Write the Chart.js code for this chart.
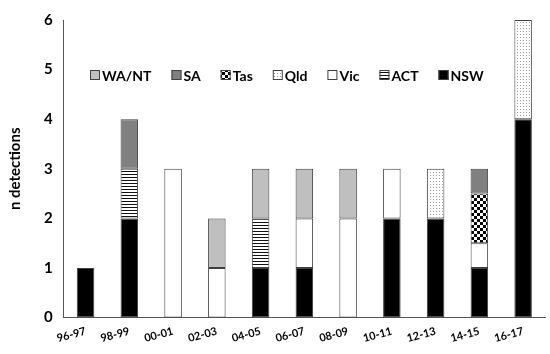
<!DOCTYPE html>
<html>
<head>
<meta charset="utf-8">
<script src="https://cdn.jsdelivr.net/npm/chart.js@4/dist/chart.umd.min.js"></script>
<style>
  html, body { margin: 0; padding: 0; background: #fff; }
  #wrap { width: 550px; height: 354px; }
</style>
</head>
<body>
<div id="wrap"><canvas id="detchart"></canvas></div>
<script>
var seasons = ["96-97","98-99","00-01","02-03","04-05","06-07","08-09","10-11","12-13","14-15","16-17"];
// stacked from the bottom: NSW, ACT, Vic, Qld, Tas, SA, WA/NT
var nsw  = [1, 2, null, null, 1, 1, null, 2, 2, 1, 4];
var act  = [null, 1, null, null, 1, null, null, null, null, null, null];
var vic  = [null, null, 3, 1, null, 1, 2, 1, null, 0.5, null];
var qld  = [null, null, null, null, null, null, null, null, 1, null, 2];
var tas  = [null, null, null, null, null, null, null, null, null, 1, null];
var sa   = [null, 1, null, null, null, null, null, null, null, 0.5, null];
var want = [null, null, null, 1, 1, 1, 1, null, null, null, null];
var yTicks = [0, 1, 2, 3, 4, 5, 6];

function makePattern(kind){
    var c = document.createElement("canvas");
    var g = c.getContext("2d");
    if (kind == "checker") {
        c.width = 6; c.height = 6;
        g.fillStyle = "#fff"; g.fillRect(0,0,6,6);
        g.fillStyle = "#000"; g.fillRect(0,0,3,3); g.fillRect(3,3,3,3);
    } else if (kind == "dots") {
        c.width = 3; c.height = 3;
        g.fillStyle = "#fff"; g.fillRect(0,0,3,3);
        g.fillStyle = "#9a9a9a"; g.fillRect(1,1,1,1);
    } else {
        c.width = 4; c.height = 3;
        g.fillStyle = "#fff"; g.fillRect(0,0,4,3);
        g.fillStyle = "#111"; g.fillRect(0,0,4,1);
    }
    return g.createPattern(c, "repeat");
}

var border = "#404040";
function ds(label, data, fill){
    return { label: label, data: data, backgroundColor: fill, borderColor: border,
             borderWidth: 1, borderSkipped: false, barPercentage: 0.8, categoryPercentage: 0.5 };
}

var datasets = [
    ds("NSW", nsw, "#000000"),
    ds("ACT", act, makePattern("stripes")),
    ds("Vic", vic, "#ffffff"),
    ds("Qld", qld, makePattern("dots")),
    ds("Tas", tas, makePattern("checker")),
    ds("SA", sa, "#808080"),
    ds("WA/NT", want, "#bfbfbf")
];

// legend drawn inside the plot, in reverse stack order
var innerLegend = {
    id: "innerLegend",
    afterDraw: function(chart){
        var ctx = chart.ctx;
        ctx.save();
        ctx.font = "bold 14px Lato, 'Liberation Sans', sans-serif";
        ctx.textBaseline = "middle";
        var x = 90, y = 75;
        for (var i = chart.data.datasets.length - 1; i >= 0; i--) {
            var d = chart.data.datasets[i];
            ctx.fillStyle = d.backgroundColor;
            ctx.fillRect(x, y - 5, 10, 10);
            ctx.strokeStyle = border; ctx.lineWidth = 1;
            ctx.strokeRect(x + 0.5, y - 4.5, 9, 9);
            ctx.fillStyle = "#000";
            ctx.fillText(d.label, x + 12, y + 1);
            x += 12 + ctx.measureText(d.label).width + 20;
        }
        ctx.restore();
    }
};

new Chart(document.getElementById("detchart"), {
    type: "bar",
    data: { labels: seasons, datasets: datasets },
    options: {
        responsive: true,
        maintainAspectRatio: false,
        animation: false,
        layout: { padding: { top: 5, right: 5, left: 2, bottom: 2 } },
        plugins: { legend: { display: false }, tooltip: { enabled: false } },
        scales: {
            x: {
                stacked: true,
                grid: { display: false, drawTicks: false },
                border: { color: "#555", width: 1 },
                ticks: { color: "#000", font: { family: "Lato, 'Liberation Sans', sans-serif", size: 11, weight: "bold" },
                         minRotation: 15, maxRotation: 15, padding: 7 }
            },
            y: {
                stacked: true,
                min: 0, max: 6,
                afterBuildTicks: function(axis){ axis.ticks = yTicks.map(function(v){ return { value: v }; }); },
                grid: { display: false, drawTicks: false },
                border: { color: "#555", width: 1 },
                ticks: { color: "#000", font: { family: "Lato, 'Liberation Sans', sans-serif", size: 15, weight: "bold" }, padding: 11 },
                title: { display: true, text: "n detections", color: "#000",
                         font: { family: "Lato, 'Liberation Sans', sans-serif", size: 15, weight: "bold" }, padding: { bottom: 9 } }
            }
        }
    },
    plugins: [innerLegend]
});
</script>
</body>
</html>
